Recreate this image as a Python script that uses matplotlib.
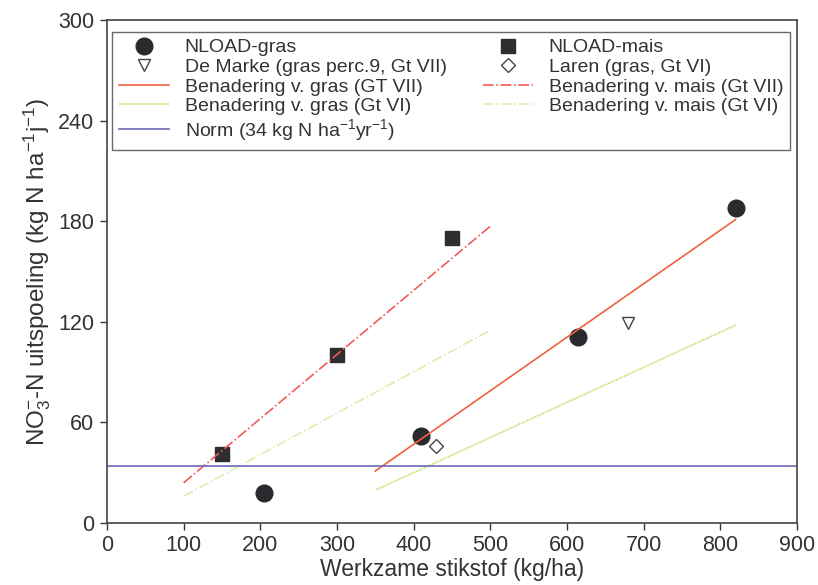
import numpy as np
import matplotlib
matplotlib.use("Agg")
import matplotlib.pyplot as plt

plt.rcParams['font.family'] = ['Liberation Sans', 'DejaVu Sans']
plt.rcParams['mathtext.fontset'] = 'custom'
plt.rcParams['mathtext.rm'] = 'Liberation Sans'
plt.rcParams['mathtext.it'] = 'Liberation Sans'

# measured points
gras_x = [205, 410, 614, 820]
gras_y = [18, 52, 111, 188]
mais_x = [150, 300, 450]
mais_y = [41, 100, 170]
demarke_x = [680]
demarke_y = [119]
laren_x = [429]
laren_y = [46]

# approximation lines (end points)
gras7_x = [350, 820]
gras7_y = [31, 181]
gras6_x = [352, 820]
gras6_y = [20, 118]
mais7_x = [100, 500]
mais7_y = [24, 177]
mais6_x = [100, 500]
mais6_y = [16, 115]
norm = 34

txt = '#333333'

fig = plt.figure(figsize=(8.18, 5.85), dpi=100)
ax = fig.add_axes([0.1308, 0.106, 0.8435, 0.8598])

h1, = ax.plot(gras_x, gras_y, 'o', color='#2a2a2e', ms=12, ls='none', label='NLOAD-gras')
h2, = ax.plot(mais_x, mais_y, 's', color='#2e2e30', ms=10, ls='none', label='NLOAD-mais')
h3, = ax.plot(demarke_x, demarke_y, 'v', mfc='white', mec='#444444', ms=9, mew=1, ls='none',
              label='De Marke (gras perc.9, Gt VII)')
h4, = ax.plot(laren_x, laren_y, 'D', mfc='white', mec='#444444', ms=7, mew=1, ls='none',
              label='Laren (gras, Gt VI)')
h5, = ax.plot(gras7_x, gras7_y, '-', color='#f06040', lw=1.2, label='Benadering v. gras (GT VII)')
h6, = ax.plot(mais7_x, mais7_y, '-.', color='#f05a5a', lw=1.2, label='Benadering v. mais (Gt VII)')
h7, = ax.plot(gras6_x, gras6_y, color='#c8e070', lw=1.3, ls=(0, (1, 0.6)),
              label='Benadering v. gras (Gt VI)')
h8, = ax.plot(mais6_x, mais6_y, '-.', color='#e0ecb0', lw=1.2, label='Benadering v. mais (Gt VI)')
h9 = ax.axhline(norm, color='#6a6ab8', lw=1.2, label='Norm (34 kg N ha$^{-1}$yr$^{-1}$)')

ax.set_xlim(0, 900)
ax.set_ylim(0, 300)
ax.set_xticks(np.arange(0, 901, 100))
ax.set_yticks(np.arange(0, 301, 60))
ax.tick_params(direction='out', length=5, width=1, colors=txt, labelsize=15.5, labelcolor=txt, pad=4)
for s in ax.spines.values():
    s.set_color('#444444')
    s.set_linewidth(1.2)

ax.set_xlabel('Werkzame stikstof (kg/ha)', fontsize=16.5, color=txt, labelpad=1)
ax.set_ylabel('NO$_3^{-}$-N uitspoeling (kg N ha$^{-1}$j$^{-1}$)', fontsize=17.5, color=txt, labelpad=4)

handles = [h1, h3, h5, h7, h9, h2, h4, h6, h8]
leg = ax.legend(handles=handles, ncol=2, loc='upper left', bbox_to_anchor=(0.007, 0.976, 0.983, 0.0),
                mode='expand', fontsize=14, frameon=True, fancybox=False, edgecolor='#444444',
                handlelength=2.6, labelspacing=0.1, borderpad=0.35, columnspacing=1.0,
                handletextpad=0.8, borderaxespad=0)
leg.get_frame().set_linewidth(1.0)
for t in leg.get_texts():
    t.set_color(txt)

fig.savefig('out.png', dpi=100)
